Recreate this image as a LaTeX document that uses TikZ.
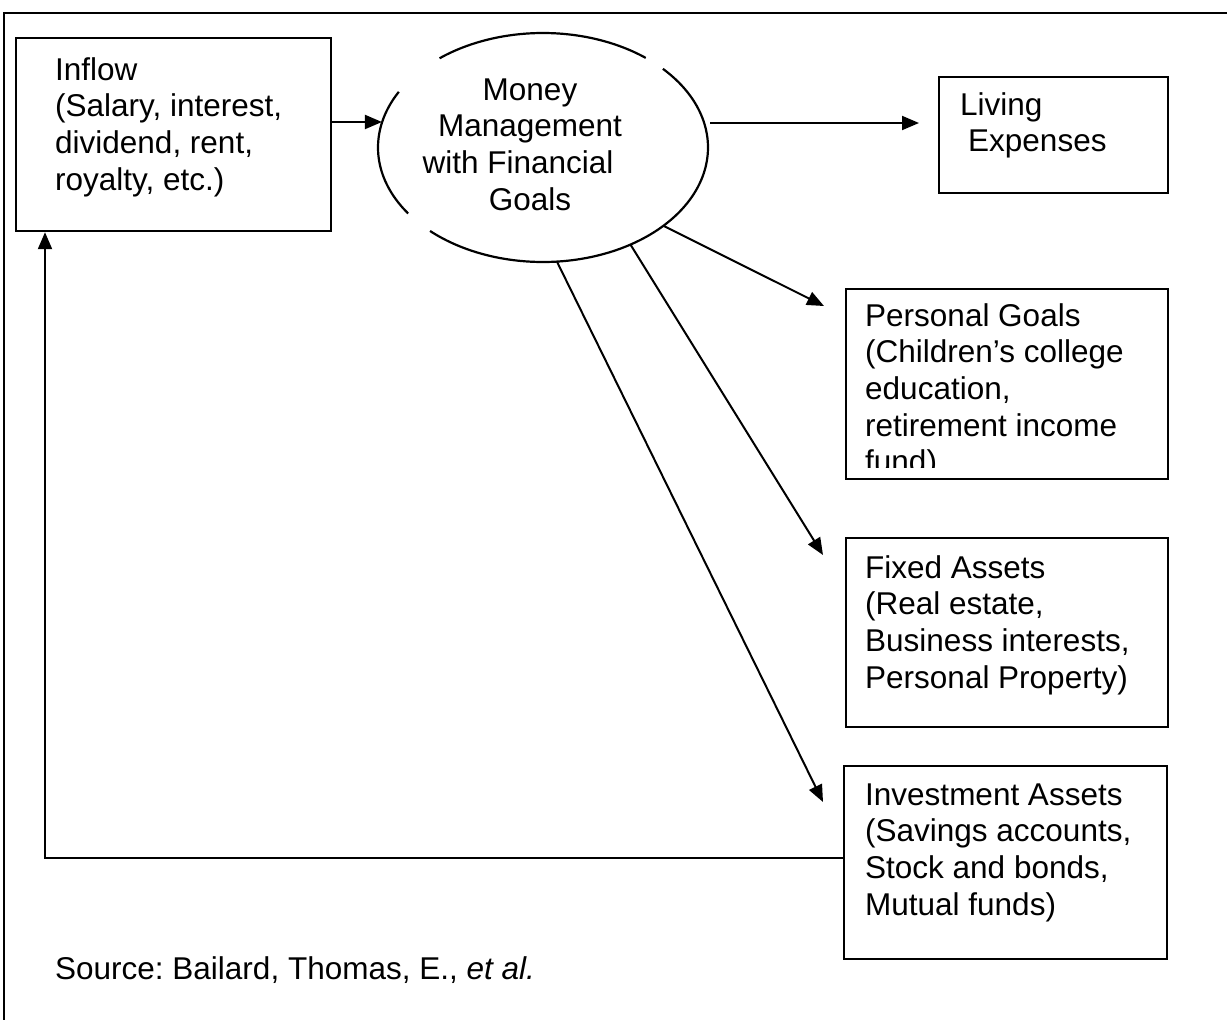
\documentclass[tikz,border=0pt]{standalone}
\usepackage{fontspec}
\setmainfont{Liberation Sans}
\usetikzlibrary{arrows.meta,shapes.geometric}
\frenchspacing
\newcommand\vlinesL[1]{\vtop{\baselineskip=36.7pt\halign{##\hfil\cr#1\crcr}}}
\newcommand\vlinesC[1]{\vtop{\baselineskip=36.9pt\halign{\hfil##\hfil\cr#1\crcr}}}
\tikzset{
  box/.style={draw, line width=2.2pt, rectangle, anchor=north west, inner sep=0pt},
  txt/.style={inner sep=0pt, font=\fontsize{31.5}{36.7}\selectfont},
  arr/.style={line width=2pt, -{Triangle[length=17pt,width=14pt]}},
  frame/.style={line width=2.2pt}
}
\begin{document}
\begin{tikzpicture}[x=1pt,y=-1pt]
\useasboundingbox (0,0) rectangle (1227,1020);
% outer frame
\draw[frame] (4,1020) -- (4,13) -- (1227,13);

% boxes
\node[box, minimum width=315pt, minimum height=193pt] (inflow) at (15,37) {};
\node[box, minimum width=229pt, minimum height=116pt] (living) at (938,76) {};
\node[box, minimum width=322pt, minimum height=190pt] (pg) at (845,288) {};
\node[box, minimum width=322pt, minimum height=189pt] (fa) at (845,537) {};
\node[box, minimum width=323pt, minimum height=193pt] (ia) at (843,765) {};

% ellipse (named shape) and its visible arcs
\node[ellipse, draw=none, minimum width=330pt, minimum height=229pt, inner sep=0pt] (mm) at (543,147.5) {};
\draw[line width=2.2pt] plot[domain=231.2:308.5, samples=60, variable=\t] ({543+165*cos(\t)}, {147.5+114.5*sin(\t)});
\draw[line width=2.2pt] plot[domain=316.6:493.2, samples=120, variable=\t] ({543+165*cos(\t)}, {147.5+114.5*sin(\t)});
\draw[line width=2.2pt] plot[domain=144.8:209.1, samples=40, variable=\t] ({543+165*cos(\t)}, {147.5+114.5*sin(\t)});

% texts
\node[txt, anchor=base west] (inflowtxt) at (55,80) {\vlinesL{Inflow\cr (Salary, interest,\cr dividend, rent,\cr royalty, etc.)}};
\node[txt, anchor=base] (mmtxt) at (530,100) {\vlinesC{Money\cr Management\cr with Financial\kern24pt\cr Goals}};
\node[txt, anchor=base west] (livingtxt) at (960,115) {\vlinesL{Living\cr \kern8pt Expenses}};
\begin{scope}
\clip (845,288) rectangle (1167,467);
\node[txt, anchor=base west] (pgtxt) at (865,326) {\vlinesL{Personal Goals\cr (Children’s college\cr education,\cr retirement income\cr fund)}};
\end{scope}
\node[txt, anchor=base west] (fatxt) at (865,578) {\vlinesL{Fixed Assets\cr (Real estate,\cr Business interests,\cr Personal Property)}};
\node[txt, anchor=base west] (iatxt) at (865,805) {\vlinesL{Investment Assets\cr (Savings accounts,\cr Stock and bonds,\cr Mutual funds)}};
\node[txt, anchor=base west] (src) at (55,979) {Source: Bailard, Thomas, E., \textit{et al.}};

% connectors
\draw[arr] (inflow.east |- mm.171.7) -- (mm.171.7);
\draw[arr] ([xshift=2pt]mm.east |- 0,123) -- ([xshift=-19pt]living.west |- 0,123);
\draw[arr] (mm.-33.4) -- ([xshift=-21pt]pg.west |- 0,306);
\draw[arr] (mm.-48.4) -- ([xshift=-22pt]fa.west |- 0,555);
\draw[arr] (mm.-83) -- ([xshift=-20pt]ia.west |- 0,802);
\draw[arr] (ia.west |- 0,858) -| ([xshift=30pt]inflow.south west);
\end{tikzpicture}
\end{document}
